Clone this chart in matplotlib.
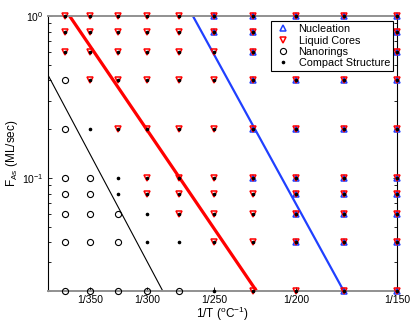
import matplotlib
matplotlib.use('Agg')
import matplotlib.pyplot as plt
import numpy as np

plt.rcParams['font.family'] = ['Liberation Sans', 'DejaVu Sans']
plt.rcParams['mathtext.fontset'] = 'custom'
plt.rcParams['mathtext.rm'] = 'Liberation Sans'
plt.rcParams['mathtext.it'] = 'Liberation Sans:italic'

# growth temperatures (deg C) and As flux (ML/sec)
temps = [375, 350, 325, 300, 275, 250, 225, 200, 175, 150]
fluxes = [1.0, 0.8, 0.6, 0.4, 0.2, 0.1, 0.08, 0.06, 0.04, 0.02]
# N = nanorings, C = compact, L = liquid cores, B = nucleation + liquid cores
phases = [
    'LLLLLBBBBB',
    'LLLLLBBBBB',
    'LLLLLLBBBB',
    'NLLLLLBBBB',
    'NCLLLLBBBB',
    'NNCLLLBBBB',
    'NNCLLLLBBB',
    'NNNCLLLBBB',
    'NNNCCLLBBB',
    'NNNNNCLLBB',
]
# boundary lines: (T deg C, flux) end points
black_line = [(393, 0.4246), (287.5, 0.02)]
red_line = [(370.7, 1.0), (223, 0.02)]
blue_line = [(265, 1.0), (175, 0.02)]
xtick_temps = [350, 300, 250, 200, 150]


def inv(t):
    return 1.0 / (np.asarray(t, dtype=float) + 273.0)


fig = plt.figure(figsize=(4.15, 3.24), dpi=100)
ax = fig.add_axes([0.1157, 0.1019, 0.8409, 0.8487])

for line, col, lw in [(black_line, 'k', 0.8), (red_line, '#ff0000', 2.3), (blue_line, '#2040ff', 1.6)]:
    ts, fs = zip(*line)
    ax.plot(inv(ts), fs, color=col, lw=lw, zorder=2, solid_capstyle='butt')

nuc_x, nuc_y, liq_x, liq_y, ring_x, ring_y, dot_x, dot_y = [], [], [], [], [], [], [], []
for f, row in zip(fluxes, phases):
    for t, p in zip(temps, row):
        if p == 'N':
            ring_x.append(inv(t)); ring_y.append(f)
        else:
            dot_x.append(inv(t)); dot_y.append(f)
        if p in 'LB':
            liq_x.append(inv(t)); liq_y.append(f)
        if p == 'B':
            nuc_x.append(inv(t)); nuc_y.append(f)

ax.plot(nuc_x, nuc_y, ls='none', marker='^', ms=4.6, mfc='none', mec='#2040ff', mew=1.1,
        label='Nucleation', zorder=4, clip_on=False)
ax.plot(liq_x, liq_y, ls='none', marker='v', ms=4.6, mfc='none', mec='#ff0000', mew=1.1,
        label='Liquid Cores', zorder=4, clip_on=False)
ax.plot(ring_x, ring_y, ls='none', marker='o', ms=4.4, mfc='none', mec='k', mew=0.8,
        label='Nanorings', zorder=4, clip_on=False)
ax.plot(dot_x, dot_y, ls='none', marker='.', ms=3.2, color='k',
        label='Compact Structure', zorder=5, clip_on=False)

ax.set_yscale('log')
ax.set_ylim(0.02, 1.0)
ax.set_xlim(0.0015, inv(150))
ax.set_xticks(inv(xtick_temps))
ax.set_xticklabels(['1/%d' % t for t in xtick_temps])
ax.set_yticks([0.1, 1.0])
ax.set_yticklabels([r'$10^{-1}$', r'$10^{0}$'])
ax.tick_params(which='both', direction='in', top=False, right=True, labelsize=7.5, length=3, width=0.6)
ax.tick_params(which='minor', length=2)
ax.tick_params(axis='x', which='minor', bottom=False, top=False)
ax.tick_params(axis='x', pad=3)

for s in ['top', 'bottom']:
    ax.spines[s].set_color('#909090')
    ax.spines[s].set_linewidth(1.4)
for s in ['left', 'right']:
    ax.spines[s].set_color('k')
    ax.spines[s].set_linewidth(0.8)

ax.set_xlabel(r'1/T ($^{\rm o}$C$^{-1}$)', fontsize=8.5, labelpad=0)
ax.set_ylabel(r'F$_{\rm As}$ (ML/sec)', fontsize=8.5, labelpad=1)

leg = ax.legend(loc='upper right', bbox_to_anchor=(0.989, 0.982), borderaxespad=0, fontsize=7.8,
                frameon=True, fancybox=False, edgecolor='k', framealpha=1, handletextpad=0.6,
                borderpad=0.3, labelspacing=0.12, handlelength=1.6)
leg.get_frame().set_linewidth(0.8)

fig.savefig('out.png', dpi=100)
